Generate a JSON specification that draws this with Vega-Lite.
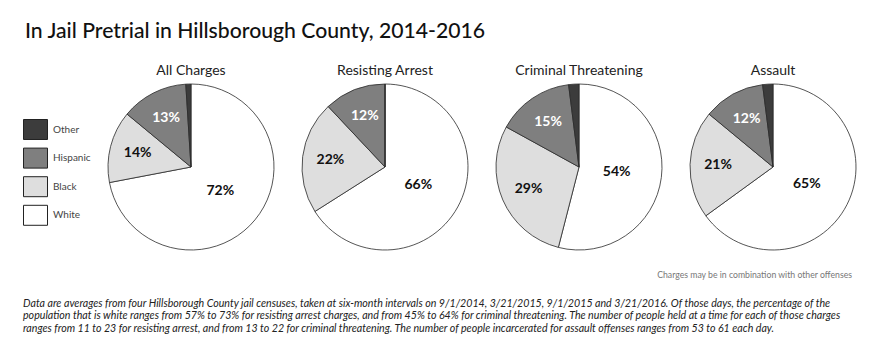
{
  "$schema": "https://vega.github.io/schema/vega-lite/v6.json",
  "padding": {"left": 23, "top": 20, "right": 5, "bottom": 2},
  "background": "white",
  "config": {
    "font": "Lato",
    "view": {"stroke": null},
    "concat": {"spacing": 0}
  },
  "title": {
    "text": "In Jail Pretrial in Hillsborough County, 2014-2016",
    "anchor": "start",
    "font": "Lato",
    "fontSize": 21.2,
    "fontWeight": 500,
    "color": "#111111",
    "offset": 22,
    "dx": 2
  },
  "resolve": {"scale": {"fill": "independent"}, "legend": {"fill": "independent"}},
  "vconcat": [
    {
      "title": {
        "text": [
          "Data are averages from four Hillsborough County jail censuses, taken at six-month intervals on 9/1/2014, 3/21/2015, 9/1/2015 and 3/21/2016. Of those days, the percentage of the",
          "population that is white ranges from 57% to 73% for resisting arrest charges, and from 45% to 64% for criminal threatening. The number of people held at a time for each of those charges",
          "ranges from 11 to 23 for resisting arrest, and from 13 to 22 for criminal threatening. The number of people incarcerated for assault offenses ranges from 53 to 61 each day."
        ],
        "orient": "bottom",
        "anchor": "start",
        "font": "Lato",
        "fontStyle": "italic",
        "fontWeight": "normal",
        "fontSize": 10.65,
        "lineHeight": 12.6,
        "color": "#222222",
        "offset": 19.5
      },
      "vconcat": [
        {
          "title": {
            "text": "Charges may be in combination with other offenses",
            "orient": "bottom",
            "anchor": "end",
            "font": "Lato",
            "fontSize": 8.7,
            "fontWeight": "normal",
            "color": "#777777",
            "offset": 19,
            "dx": -18
          },
          "data": {
            "values": [
              {"charge": "All Charges", "race": "White", "pct": 0.72, "k": 1},
              {"charge": "All Charges", "race": "Black", "pct": 0.14, "k": 2},
              {"charge": "All Charges", "race": "Hispanic", "pct": 0.13, "k": 3},
              {"charge": "All Charges", "race": "Other", "pct": 0.01, "k": 4},
              {"charge": "Resisting Arrest", "race": "White", "pct": 0.66, "k": 1},
              {"charge": "Resisting Arrest", "race": "Black", "pct": 0.22, "k": 2},
              {"charge": "Resisting Arrest", "race": "Hispanic", "pct": 0.12, "k": 3},
              {"charge": "Resisting Arrest", "race": "Other", "pct": 0.0, "k": 4},
              {"charge": "Criminal Threatening", "race": "White", "pct": 0.54, "k": 1},
              {"charge": "Criminal Threatening", "race": "Black", "pct": 0.29, "k": 2},
              {"charge": "Criminal Threatening", "race": "Hispanic", "pct": 0.15, "k": 3},
              {"charge": "Criminal Threatening", "race": "Other", "pct": 0.02, "k": 4},
              {"charge": "Assault", "race": "White", "pct": 0.65, "k": 1},
              {"charge": "Assault", "race": "Black", "pct": 0.21, "k": 2},
              {"charge": "Assault", "race": "Hispanic", "pct": 0.12, "k": 3},
              {"charge": "Assault", "race": "Other", "pct": 0.02, "k": 4}
            ]
          },
          "facet": {
            "column": {
              "field": "charge",
              "type": "nominal",
              "sort": ["All Charges", "Resisting Arrest", "Criminal Threatening", "Assault"],
              "header": {
                "title": null,
                "labelFont": "Lato",
                "labelFontSize": 14,
                "labelColor": "#222222",
                "labelPadding": 4
              }
            }
          },
          "spacing": 0,
          "spec": {
            "width": 194,
            "height": 166,
            "encoding": {
              "theta": {"field": "pct", "type": "quantitative", "stack": true},
              "order": {"field": "k", "type": "quantitative"}
            },
            "layer": [
              {
                "mark": {"type": "arc", "outerRadius": 83, "stroke": "#2a2a2a", "strokeWidth": 0.8},
                "encoding": {
                  "fill": {
                    "field": "race",
                    "type": "nominal",
                    "scale": {
                      "domain": ["Other", "Hispanic", "Black", "White"],
                      "range": ["#3c3c3c", "#7f7f7f", "#dedede", "#ffffff"]
                    },
                    "legend": {
                      "title": " ",
                      "titleFontSize": 1,
                      "titlePadding": 32,
                      "orient": "left",
                      "symbolType": "M-1,-0.833H1V0.833H-1Z",
                      "symbolSize": 576,
                      "symbolStrokeColor": "#222222",
                      "symbolStrokeWidth": 1,
                      "symbolOpacity": 1,
                      "labelFont": "Lato",
                      "labelFontSize": 10,
                      "labelColor": "#444444",
                      "labelOffset": 5,
                      "rowPadding": 3.6,
                      "offset": 3,
                      "padding": 0
                    }
                  }
                }
              },
              {
                "mark": {"type": "text", "radius": 55, "font": "Lato", "fontSize": 14, "fontWeight": "bold"},
                "encoding": {
                  "text": {
                    "condition": {"test": "datum.race === 'Black' || datum.race === 'Hispanic'", "field": "pct", "type": "quantitative", "format": ".0%"},
                    "value": ""
                  },
                  "fill": {
                    "condition": {"test": "datum.race === 'Hispanic'", "value": "#ffffff"},
                    "value": "#111111"
                  }
                }
              },
              {
                "mark": {"type": "text", "radius": 38, "font": "Lato", "fontSize": 14, "fontWeight": "bold", "fill": "#111111"},
                "encoding": {
                  "text": {
                    "condition": {"test": "datum.race === 'White'", "field": "pct", "type": "quantitative", "format": ".0%"},
                    "value": ""
                  }
                }
              }
            ]
          }
        }
      ]
    }
  ]
}
